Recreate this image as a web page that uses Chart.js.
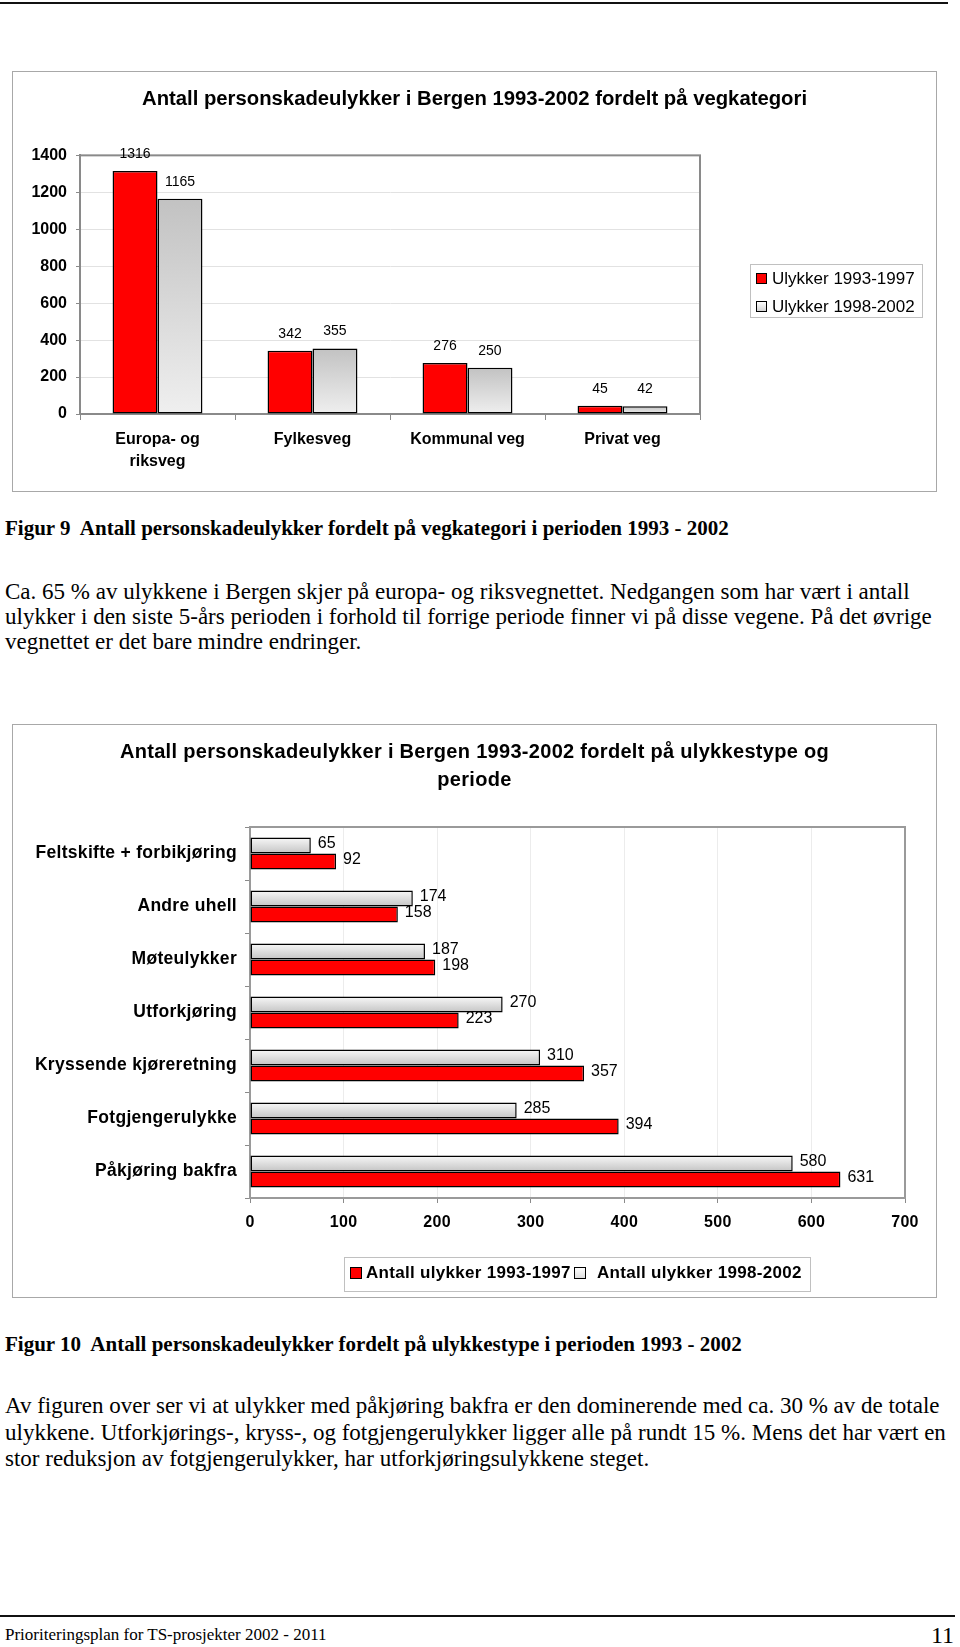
<!DOCTYPE html>
<html><head><meta charset="utf-8">
<script src="https://cdn.jsdelivr.net/npm/chart.js@4.4.0/dist/chart.umd.min.js"></script>
<style>
html,body{margin:0;padding:0;background:#fff;}
body{width:960px;height:1647px;position:relative;overflow:hidden;}
.abs{position:absolute;}
.serif{font-family:"Liberation Serif","Times New Roman",serif;color:#000;white-space:nowrap;}
.sans{font-family:"Liberation Sans",Arial,sans-serif;color:#000;white-space:nowrap;}
.frame{border:1px solid #a8a8a8;box-sizing:border-box;}
.sq{box-sizing:border-box;border:1px solid #000;}
</style></head><body>
<div class="abs" style="left:0;top:2px;width:948px;height:2px;background:#111"></div>

<div class="abs frame" style="left:12px;top:71px;width:925px;height:421px"></div>
<canvas id="c1" class="abs" style="left:12px;top:71px" width="925" height="421"></canvas>
<div id="leg1" class="abs frame" style="left:750px;top:264px;width:173px;height:54px;border-color:#c0c0c0"></div>

<div class="abs serif" style="left:5px;top:515px;line-height:26px;font-size:21px;font-weight:bold">Figur 9&nbsp; Antall personskadeulykker fordelt på vegkategori i perioden 1993 - 2002</div>
<div class="abs serif" style="left:5px;top:579px;line-height:26px;font-size:23px">Ca. 65 % av ulykkene i Bergen skjer på europa- og riksvegnettet. Nedgangen som har vært i antall</div>
<div class="abs serif" style="left:5px;top:604px;line-height:26px;font-size:23px">ulykker i den siste 5-års perioden i forhold til forrige periode finner vi på disse vegene. På det øvrige</div>
<div class="abs serif" style="left:5px;top:629px;line-height:26px;font-size:23px">vegnettet er det bare mindre endringer.</div>

<div class="abs frame" style="left:12px;top:724px;width:925px;height:574px"></div>
<canvas id="c2" class="abs" style="left:12px;top:724px" width="925" height="574"></canvas>
<div id="leg2" class="abs frame" style="left:344px;top:1257px;width:467px;height:35px;border-color:#c0c0c0"></div>

<div class="abs serif" style="left:5px;top:1331px;line-height:26px;font-size:21px;font-weight:bold">Figur 10&nbsp; Antall personskadeulykker fordelt på ulykkestype i perioden 1993 - 2002</div>
<div class="abs serif" style="left:5px;top:1393px;line-height:26px;font-size:23px">Av figuren over ser vi at ulykker med påkjøring bakfra er den dominerende med ca. 30 % av de totale</div>
<div class="abs serif" style="left:5px;top:1420px;line-height:26px;font-size:23px">ulykkene. Utforkjørings-, kryss-, og fotgjengerulykker ligger alle på rundt 15 %. Mens det har vært en</div>
<div class="abs serif" style="left:5px;top:1446px;line-height:26px;font-size:23px">stor reduksjon av fotgjengerulykker, har utforkjøringsulykkene steget.</div>

<div class="abs" style="left:0;top:1615px;width:955px;height:2px;background:#111"></div>
<div class="abs serif" style="left:5px;top:1623px;line-height:24px;font-size:17px">Prioriteringsplan for TS-prosjekter 2002 - 2011</div>
<div class="abs serif" style="right:6px;top:1620px;line-height:30px;font-size:24px">11</div>

<script>
// ---------- data: chart 1 (vegkategori) ----------
const roadTitle = "Antall personskadeulykker i Bergen 1993-2002 fordelt på vegkategori";
const roadCategories = [["Europa- og", "riksveg"], "Fylkesveg", "Kommunal veg", "Privat veg"];
const roadSeriesNames = ["Ulykker 1993-1997", "Ulykker 1998-2002"];
const roadValues1993_1997 = [1316, 342, 276, 45];
const roadValues1998_2002 = [1165, 355, 250, 42];
const roadAxisMax = 1400;
const roadAxisStep = 200;

// ---------- data: chart 2 (ulykkestype) ----------
const typeTitle = ["Antall personskadeulykker i Bergen 1993-2002 fordelt på ulykkestype og", "periode"];
const typeCategories = ["Feltskifte + forbikjøring", "Andre uhell", "Møteulykker", "Utforkjøring",
  "Kryssende kjøreretning", "Fotgjengerulykke", "Påkjøring bakfra"];
const typeSeriesNames = ["Antall ulykker 1993-1997", "Antall ulykker 1998-2002"];
const typeValues1993_1997 = [92, 158, 198, 223, 357, 394, 631];
const typeValues1998_2002 = [65, 174, 187, 270, 310, 285, 580];
const typeAxisMax = 700;
const typeAxisStep = 100;

// ---------- styling ----------
const RED = '#ff0000';
const SANS = '"Liberation Sans", Arial, sans-serif';
Chart.defaults.font.family = SANS;
Chart.defaults.color = '#000';

function grayVertical(context) {
  const chart = context.chart;
  if (!chart.chartArea || context.raw === undefined) return '#d9d9d9';
  const y = chart.scales.y;
  const top = y.getPixelForValue(context.raw), base = y.getPixelForValue(0);
  const g = chart.ctx.createLinearGradient(0, top, 0, base);
  g.addColorStop(0, '#c2c2c2'); g.addColorStop(1, '#efefef');
  return g;
}
function grayHorizontal(context) {
  const chart = context.chart, area = chart.chartArea;
  if (!area || context.dataIndex === undefined) return '#e0e0e0';
  const y = chart.scales.y;
  const center = y.getPixelForValue(context.dataIndex);
  const th = (area.bottom - area.top) / typeCategories.length * 0.6 / 2;
  const g = chart.ctx.createLinearGradient(0, center - th, 0, center);
  g.addColorStop(0, '#f8f8f8'); g.addColorStop(1, '#c4c4c4');
  return g;
}

// invisible axis that only reserves space on the right (keeps the title centred on the whole box)
function spacerAxis(width) {
  return {
    type: 'linear', position: 'right', display: true,
    grid: { display: false, drawTicks: false }, border: { display: false },
    ticks: { display: false },
    afterFit: s => { s.width = width; }
  };
}

const plotFrame = {
  id: 'plotFrame',
  beforeDatasetsDraw(chart, args, opts) {
    const a = chart.chartArea, c = chart.ctx;
    c.save(); c.strokeStyle = opts.color; c.lineWidth = opts.width;
    c.strokeRect(a.left, a.top, a.right - a.left, a.bottom - a.top);
    c.restore();
  }
};
const valueLabels = {
  id: 'valueLabels',
  afterDatasetsDraw(chart, args, opts) {
    const c = chart.ctx;
    c.save();
    c.letterSpacing = '0px';
    c.font = opts.font; c.fillStyle = '#000'; c.textBaseline = 'middle';
    chart.data.datasets.forEach((ds, i) => {
      chart.getDatasetMeta(i).data.forEach((el, j) => {
        const txt = String(ds.data[j]);
        if (opts.horizontal) { c.textAlign = 'left'; c.fillText(txt, el.x + opts.dx, el.y + opts.dy); }
        else { c.textAlign = 'center'; c.fillText(txt, el.x, el.y - opts.dy); }
      });
    });
    c.restore();
  }
};
const spacing = {
  id: 'spacing',
  beforeDraw(chart, args, opts) { chart.ctx.letterSpacing = opts.value; },
  beforeDatasetsDraw(chart) { chart.ctx.letterSpacing = '0px'; }
};

// ---------- chart 1 ----------
new Chart(document.getElementById('c1'), {
  type: 'bar',
  data: {
    labels: roadCategories,
    datasets: [
      { label: roadSeriesNames[0], data: roadValues1993_1997, backgroundColor: RED, xAxisID: 'x', yAxisID: 'y' },
      { label: roadSeriesNames[1], data: roadValues1998_2002, backgroundColor: grayVertical, xAxisID: 'x', yAxisID: 'y' }
    ]
  },
  options: {
    responsive: false, animation: false,
    datasets: { bar: { categoryPercentage: 0.58, barPercentage: 1.0, borderColor: '#000', borderWidth: 1.5, borderSkipped: false } },
    layout: { padding: 0 },
    scales: {
      x: {
        grid: { drawOnChartArea: false, drawTicks: true, tickLength: 6, tickColor: '#8a8a8a', offset: true },
        border: { color: '#8a8a8a', width: 2 },
        ticks: { font: { size: 16, weight: 'bold', lineHeight: 1.35 }, padding: 9, color: '#000', maxRotation: 0 },
        afterFit: s => { s.height = 78; }
      },
      y: {
        position: 'left',
        min: 0, max: roadAxisMax,
        ticks: { stepSize: roadAxisStep, font: { size: 16, weight: 'bold' }, padding: 9, color: '#000', callback: v => String(v) },
        grid: { color: '#e2e2e2', tickColor: '#8a8a8a', tickLength: 4 },
        border: { color: '#8a8a8a', width: 2 },
        afterFit: s => { s.width = 68; }
      },
      spacer: spacerAxis(237)
    },
    plugins: {
      legend: { display: false },
      tooltip: { enabled: false },
      title: { display: true, text: roadTitle, color: '#000', font: { size: 20.3, weight: 'bold', lineHeight: 1.2 }, padding: { top: 16, bottom: 44 } },
      plotFrame: { color: '#8a8a8a', width: 2 },
      valueLabels: { font: '14px ' + SANS, dy: 17, horizontal: false }
    }
  },
  plugins: [plotFrame, valueLabels]
});

// ---------- chart 2 ----------
new Chart(document.getElementById('c2'), {
  type: 'bar',
  data: {
    labels: typeCategories,
    datasets: [
      { label: typeSeriesNames[1], data: typeValues1998_2002, backgroundColor: grayHorizontal, xAxisID: 'x', yAxisID: 'y' },
      { label: typeSeriesNames[0], data: typeValues1993_1997, backgroundColor: RED, xAxisID: 'x', yAxisID: 'y' }
    ]
  },
  options: {
    indexAxis: 'y',
    responsive: false, animation: false,
    datasets: { bar: { categoryPercentage: 0.6, barPercentage: 1.0, borderColor: '#000', borderWidth: 1.5, borderSkipped: false } },
    layout: { padding: 0 },
    scales: {
      x: {
        min: 0, max: typeAxisMax,
        ticks: { stepSize: typeAxisStep, font: { size: 16, weight: 'bold' }, padding: 10, color: '#000' },
        grid: { color: '#ececec', tickColor: '#8a8a8a', tickLength: 5 },
        border: { color: '#8a8a8a', width: 2 },
        afterFit: s => { s.height = 100; }
      },
      y: {
        type: 'category', position: 'left',
        grid: { drawOnChartArea: false, drawTicks: true, tickLength: 5, tickColor: '#8a8a8a', offset: true },
        border: { color: '#8a8a8a', width: 2 },
        ticks: { font: { size: 17.5, weight: 'bold' }, padding: 8, color: '#000' },
        afterFit: s => { s.width = 238; }
      },
      spacer: spacerAxis(32)
    },
    plugins: {
      legend: { display: false },
      tooltip: { enabled: false },
      title: { display: true, text: typeTitle, color: '#000', font: { size: 20, weight: 'bold', lineHeight: 1.4 }, padding: { top: 14, bottom: 33 } },
      plotFrame: { color: '#9a9a9a', width: 2 },
      valueLabels: { font: '16px ' + SANS, dx: 7, dy: -2, horizontal: true },
      spacing: { value: '0.3px' }
    }
  },
  plugins: [spacing, plotFrame, valueLabels]
});

// ---------- HTML legends built from the series names ----------
function legendItem(x, y, size, fill, text, tx, font) {
  const sq = document.createElement('div');
  sq.className = 'abs sq';
  sq.style.cssText = `left:${x}px;top:${y}px;width:${size}px;height:${size}px;background:${fill}`;
  document.body.appendChild(sq);
  const t = document.createElement('div');
  t.className = 'abs sans';
  t.style.cssText = `left:${tx}px;top:${y + size / 2 - 12}px;line-height:24px;${font}`;
  t.textContent = text;
  document.body.appendChild(t);
}
legendItem(756, 273, 11, RED, roadSeriesNames[0], 772, 'font-size:17px');
legendItem(756, 301, 11, 'linear-gradient(#ffffff,#d4d4d4)', roadSeriesNames[1], 772, 'font-size:17px');
legendItem(350, 1267, 12, RED, typeSeriesNames[0], 366, 'font-size:17px;font-weight:bold;letter-spacing:0.3px');
legendItem(574, 1267, 12, 'linear-gradient(#ffffff,#dddddd)', typeSeriesNames[1], 597, 'font-size:17px;font-weight:bold;letter-spacing:0.3px');
</script>
</body></html>
